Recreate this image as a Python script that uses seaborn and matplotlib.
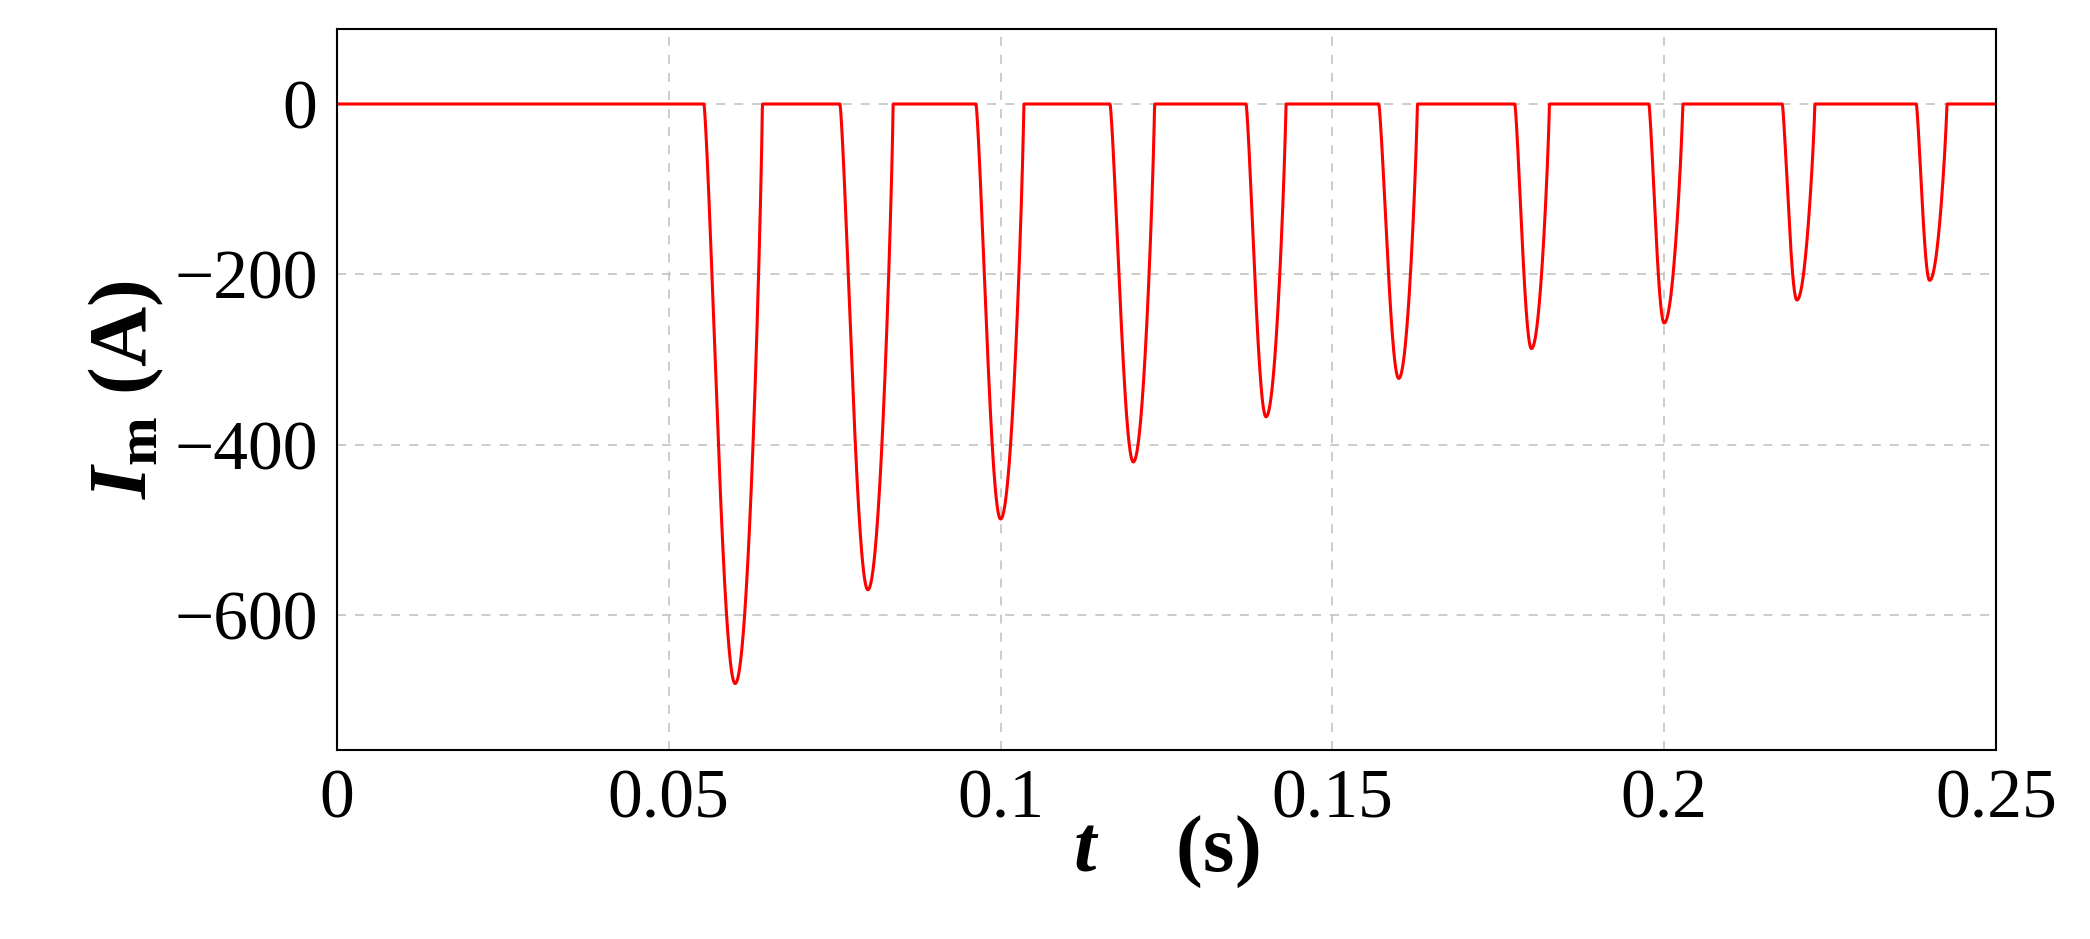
import numpy as np
import matplotlib
matplotlib.use("Agg")
import matplotlib.pyplot as plt
import seaborn as sns
import pandas as pd

# pulse data
pulse_start = [0.0553, 0.0758, 0.0963, 0.1165, 0.1370, 0.1570, 0.1775, 0.1977, 0.2178, 0.2380]
pulse_min_t = [0.0600, 0.0800, 0.1000, 0.1200, 0.1400, 0.1600, 0.1800, 0.2000, 0.2200, 0.2400]
pulse_end   = [0.0641, 0.0838, 0.1035, 0.1232, 0.1430, 0.1628, 0.1827, 0.2028, 0.2227, 0.2426]
pulse_depth = [-680, -570, -487, -420, -367, -322, -287, -257, -230, -207]

t = np.linspace(0, 0.25, 6000)
i = np.zeros_like(t)
for s, m, e, d in zip(pulse_start, pulse_min_t, pulse_end, pulse_depth):
    left = (t >= s) & (t <= m)
    u = (t[left] - s) / (m - s)
    i[left] = d * np.sin(np.pi / 2 * u) ** 1.3
    right = (t > m) & (t <= e)
    u = (t[right] - m) / (e - m)
    i[right] = d * np.cos(np.pi / 2 * u) ** 0.8
df = pd.DataFrame({"t": t, "I": i})

sns.set_style("white")
plt.rcParams['font.family'] = ['Liberation Serif', 'DejaVu Serif']
plt.rcParams['mathtext.fontset'] = 'custom'
plt.rcParams['mathtext.it'] = 'Liberation Serif:italic:bold'
plt.rcParams['mathtext.rm'] = 'Liberation Serif:bold'
plt.rcParams['text.color'] = 'black'
plt.rcParams['axes.labelcolor'] = 'black'
plt.rcParams['xtick.color'] = 'black'
plt.rcParams['ytick.color'] = 'black'
fig = plt.figure(figsize=(20.9, 9.39), dpi=100)
ax = fig.add_axes([337/2090, 1-750/939, (1996-337)/2090, (750-29)/939])
sns.lineplot(data=df, x="t", y="I", ax=ax, color="red", linewidth=2.2)
ax.set_xlim(0, 0.25)
ax.set_ylim(-758, 88)
ax.set_xticks([0, 0.05, 0.1, 0.15, 0.2, 0.25])
ax.set_xticklabels(["0", "0.05", "0.1", "0.15", "0.2", "0.25"])
ax.set_yticks([0, -200, -400, -600])
ax.set_yticklabels(["0", "\u2212200", "\u2212400", "\u2212600"])
ax.tick_params(labelsize=50, length=0, pad=14)
ax.grid(True, linestyle=(0, (5, 5)), color="#c8c8c8", linewidth=1.3)
for sp in ax.spines.values():
    sp.set_color("black"); sp.set_linewidth(1.5)
ax.set_xlabel(r"$t$    (s)", fontsize=58, fontweight="bold", labelpad=-14)
ax.set_ylabel(r"$I_{\mathrm{m}}$ (A)", fontsize=60, fontweight="bold", labelpad=6)
fig.savefig("out.png", dpi=100)
